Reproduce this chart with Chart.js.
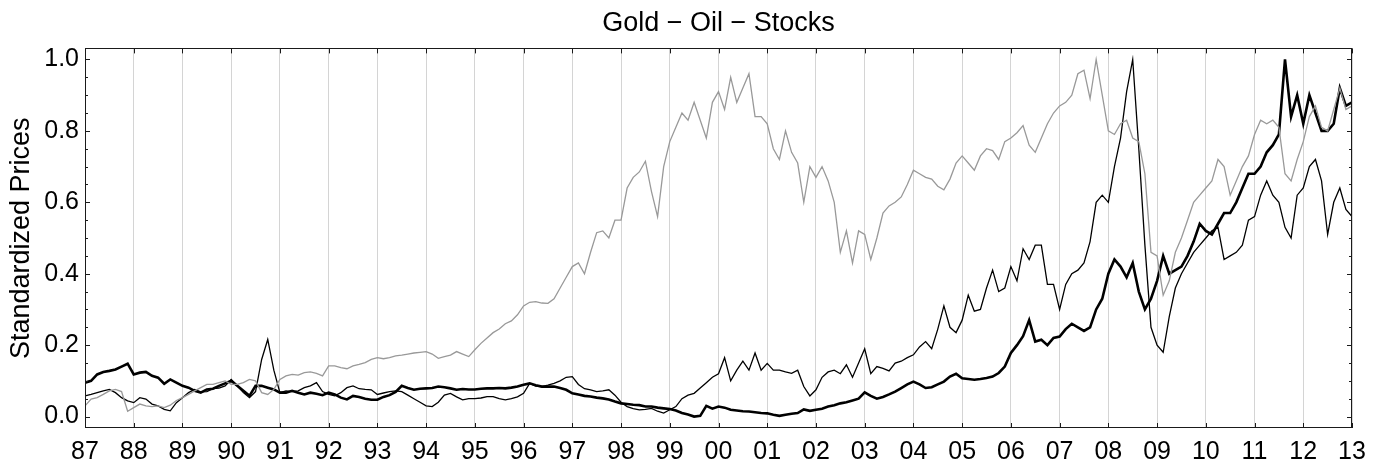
<!DOCTYPE html>
<html>
<head>
<meta charset="utf-8">
<title>Gold - Oil - Stocks</title>
<script src="https://cdn.jsdelivr.net/npm/chart.js@4.4.1/dist/chart.umd.min.js"></script>
<style>
   html, body { margin: 0; padding: 0; background: #fff; }
   canvas { display: block; }
</style>
</head>
<body>
<canvas id="chart" width="1386" height="465"></canvas>
<script>
const startYear = 1987;
const stepYears = 1 / 8;

const gold = [
   0.095, 0.10, 0.118, 0.125, 0.128, 0.132, 0.14, 0.148,
   0.118, 0.123, 0.125, 0.114, 0.109, 0.092, 0.104, 0.095,
   0.086, 0.081, 0.072, 0.067, 0.076, 0.078, 0.086, 0.093,
   0.10, 0.086, 0.072, 0.058, 0.086, 0.086, 0.081, 0.076,
   0.067, 0.067, 0.072, 0.067, 0.062, 0.067, 0.064, 0.06,
   0.067, 0.062, 0.053, 0.048, 0.058, 0.055, 0.05, 0.047,
   0.047, 0.055, 0.06, 0.069, 0.086, 0.08, 0.075, 0.078,
   0.079, 0.08, 0.084, 0.082, 0.079, 0.075, 0.077, 0.076,
   0.076, 0.078, 0.079, 0.079, 0.08, 0.079, 0.081, 0.084,
   0.089, 0.093, 0.088, 0.084, 0.084, 0.084, 0.08, 0.075,
   0.065, 0.062, 0.058, 0.056, 0.053, 0.051, 0.048, 0.042,
   0.037, 0.035, 0.033, 0.032, 0.028, 0.028, 0.025, 0.023,
   0.021, 0.017, 0.01, 0.006, 0.0, 0.002, 0.03, 0.022,
   0.028, 0.025, 0.019, 0.017, 0.015, 0.014, 0.012, 0.01,
   0.009, 0.005, 0.002, 0.005, 0.008, 0.01, 0.02, 0.016,
   0.019, 0.022, 0.028, 0.032, 0.037, 0.04, 0.045, 0.05,
   0.068, 0.058, 0.05, 0.055, 0.062, 0.07, 0.08, 0.09,
   0.098, 0.09, 0.08, 0.082, 0.09, 0.098, 0.112, 0.12,
   0.107, 0.105, 0.103, 0.105, 0.108, 0.112, 0.122, 0.14,
   0.178, 0.2, 0.225, 0.27, 0.21, 0.215, 0.2, 0.22,
   0.224, 0.245, 0.26, 0.25, 0.24, 0.25, 0.3, 0.33,
   0.40, 0.44, 0.42, 0.39, 0.43, 0.35, 0.3, 0.33,
   0.38, 0.45, 0.40, 0.41, 0.42, 0.45, 0.49, 0.54,
   0.52, 0.51, 0.54, 0.57, 0.57, 0.6, 0.64, 0.68,
   0.68, 0.7, 0.74, 0.76, 0.79, 1.0, 0.84, 0.9,
   0.82, 0.9, 0.85, 0.8, 0.8, 0.82, 0.92, 0.87,
   0.88
];

const oil = [
   0.058, 0.062, 0.067, 0.072, 0.076, 0.067, 0.053, 0.044,
   0.039, 0.053, 0.049, 0.035, 0.03, 0.02, 0.016, 0.039,
   0.053, 0.067, 0.076, 0.069, 0.07, 0.078, 0.08, 0.086,
   0.104, 0.086, 0.067, 0.053, 0.07, 0.16, 0.216, 0.13,
   0.067, 0.072, 0.07, 0.072, 0.081, 0.086, 0.095, 0.07,
   0.062, 0.058, 0.067, 0.081, 0.086, 0.078, 0.076, 0.075,
   0.062, 0.066, 0.07, 0.072, 0.07, 0.06, 0.05, 0.04,
   0.03, 0.028, 0.04, 0.06, 0.065, 0.055, 0.047, 0.05,
   0.05, 0.052, 0.056, 0.056, 0.05, 0.047, 0.05, 0.055,
   0.065, 0.093, 0.085, 0.084, 0.088, 0.093, 0.1, 0.11,
   0.112, 0.09, 0.078, 0.075, 0.07, 0.072, 0.075, 0.06,
   0.04, 0.028, 0.022, 0.019, 0.02, 0.023, 0.015, 0.01,
   0.019, 0.028, 0.05, 0.06, 0.065, 0.08, 0.095, 0.11,
   0.12, 0.165, 0.10, 0.13, 0.155, 0.13, 0.178, 0.13,
   0.149, 0.13, 0.13, 0.125, 0.121, 0.13, 0.084, 0.058,
   0.075, 0.11, 0.125, 0.13, 0.12, 0.145, 0.11, 0.15,
   0.19, 0.12, 0.14, 0.135, 0.128, 0.15, 0.155, 0.165,
   0.173, 0.195, 0.21, 0.19, 0.245, 0.31, 0.25, 0.235,
   0.27, 0.34, 0.295, 0.3, 0.36, 0.41, 0.35, 0.36,
   0.42, 0.38, 0.47, 0.44, 0.48, 0.48, 0.37, 0.37,
   0.3, 0.37, 0.4, 0.41, 0.43, 0.49, 0.6, 0.62,
   0.6, 0.7, 0.78, 0.91, 1.0, 0.75, 0.48, 0.25,
   0.2, 0.18, 0.28, 0.36, 0.4, 0.43, 0.46, 0.48,
   0.5, 0.52, 0.53, 0.44, 0.45, 0.46, 0.48, 0.55,
   0.56, 0.62, 0.66, 0.62, 0.6, 0.53, 0.5, 0.62,
   0.64, 0.7, 0.72, 0.66, 0.51, 0.6, 0.64, 0.58,
   0.56
];

const stocks = [
   0.03, 0.049, 0.053, 0.062, 0.072, 0.076, 0.07, 0.015,
   0.025, 0.035, 0.03, 0.028, 0.03, 0.025, 0.032, 0.045,
   0.053, 0.062, 0.072, 0.081, 0.09, 0.09, 0.095, 0.1,
   0.09, 0.09, 0.095, 0.104, 0.1, 0.067, 0.062, 0.076,
   0.104, 0.114, 0.118, 0.116, 0.123, 0.125, 0.121, 0.114,
   0.142, 0.142, 0.137, 0.134, 0.142, 0.146, 0.151, 0.16,
   0.165, 0.162, 0.165, 0.17, 0.172, 0.175, 0.178, 0.18,
   0.182, 0.175, 0.163, 0.168, 0.172, 0.182, 0.175, 0.168,
   0.187, 0.205, 0.22, 0.235, 0.245, 0.26, 0.268, 0.285,
   0.31, 0.32, 0.322, 0.318, 0.317, 0.33, 0.36, 0.39,
   0.42, 0.43, 0.4, 0.46, 0.515, 0.52, 0.5, 0.55,
   0.55, 0.64, 0.67, 0.685, 0.715, 0.63, 0.56, 0.7,
   0.77, 0.81, 0.85, 0.83, 0.88, 0.83, 0.78, 0.88,
   0.91, 0.86, 0.95, 0.88, 0.92, 0.96, 0.84, 0.84,
   0.82, 0.75, 0.72, 0.8, 0.74, 0.71, 0.6, 0.7,
   0.67, 0.7, 0.66, 0.6, 0.46, 0.52, 0.43, 0.52,
   0.51, 0.44, 0.5, 0.57, 0.59, 0.6, 0.615, 0.65,
   0.69, 0.68, 0.67, 0.665, 0.645, 0.635, 0.665, 0.71,
   0.73, 0.71, 0.69, 0.73, 0.75, 0.745, 0.72, 0.77,
   0.78, 0.795, 0.815, 0.76, 0.74, 0.78, 0.82, 0.85,
   0.87, 0.88, 0.9, 0.96, 0.97, 0.89, 1.0, 0.9,
   0.8, 0.79, 0.82, 0.83, 0.78, 0.77, 0.68, 0.46,
   0.45, 0.34, 0.38, 0.46, 0.5, 0.55, 0.6, 0.62,
   0.64, 0.66, 0.72, 0.7, 0.62, 0.66, 0.7, 0.73,
   0.79, 0.83, 0.82, 0.83, 0.81, 0.68, 0.66, 0.72,
   0.77, 0.84, 0.87, 0.81, 0.8, 0.86, 0.92, 0.86,
   0.87
];

const xTickYears = [
   1987, 1988, 1989, 1990, 1991, 1992, 1993, 1994, 1995, 1996, 1997, 1998, 1999,
   2000, 2001, 2002, 2003, 2004, 2005, 2006, 2007, 2008, 2009, 2010, 2011, 2012, 2013
];
const xTickLabels = [
   "87", "88", "89", "90", "91", "92", "93", "94", "95", "96", "97", "98", "99",
   "00", "01", "02", "03", "04", "05", "06", "07", "08", "09", "10", "11", "12", "13"
];
const yTicks = [0, 0.2, 0.4, 0.6, 0.8, 1.0];
const yMinorTicks = [
   0.05, 0.1, 0.15, 0.25, 0.3, 0.35, 0.45, 0.5, 0.55, 0.65, 0.7, 0.75, 0.85, 0.9, 0.95
];

const FONT = "'Liberation Sans', Arial, Helvetica, sans-serif";

// Turn a series into {x, y} points on the 1/8 year grid
function toPoints(values) {
   return values.map((v, i) => ({ x: startYear + i * stepYears, y: v }));
}

// Frame with inward tick marks, like the original plot
const frameTicks = {
   id: "frameTicks",
   afterDraw(chart) {
      const ctx = chart.ctx;
      const area = chart.chartArea;
      const xs = chart.scales.x;
      const ys = chart.scales.y;
      ctx.save();
      ctx.strokeStyle = "#1a1a1a";
      ctx.lineWidth = 1;
      ctx.beginPath();
      xTickYears.forEach((yr) => {
         const px = Math.round(xs.getPixelForValue(yr)) + 0.5;
         ctx.moveTo(px, area.bottom);
         ctx.lineTo(px, area.bottom - 5);
         ctx.moveTo(px, area.top);
         ctx.lineTo(px, area.top + 5);
      });
      yTicks.forEach((v) => {
         const py = Math.round(ys.getPixelForValue(v)) + 0.5;
         ctx.moveTo(area.left, py);
         ctx.lineTo(area.left + 5, py);
         ctx.moveTo(area.right, py);
         ctx.lineTo(area.right - 5, py);
      });
      yMinorTicks.forEach((v) => {
         const py = Math.round(ys.getPixelForValue(v)) + 0.5;
         ctx.moveTo(area.left, py);
         ctx.lineTo(area.left + 3, py);
         ctx.moveTo(area.right, py);
         ctx.lineTo(area.right - 3, py);
      });
      ctx.stroke();
      ctx.strokeRect(
         Math.round(area.left) + 0.5,
         Math.round(area.top) + 0.5,
         Math.round(area.width) - 1,
         Math.round(area.height) - 1
      );
      ctx.restore();
   },
};

const ctx = document.getElementById("chart").getContext("2d");
new Chart(ctx, {
   type: "line",
   data: {
      datasets: [
         {
            label: "Gold",
            data: toPoints(gold),
            borderColor: "#000000",
            borderWidth: 2.6,
            order: 3,
         },
         {
            label: "Oil",
            data: toPoints(oil),
            borderColor: "#000000",
            borderWidth: 1.3,
            order: 2,
         },
         {
            label: "Stocks",
            data: toPoints(stocks),
            borderColor: "#999999",
            borderWidth: 1.3,
            order: 1,
         },
      ],
   },
   options: {
      responsive: false,
      animation: false,
      devicePixelRatio: 1,
      layout: {
         padding: { left: 0, right: 34, top: 0, bottom: 0 },
      },
      elements: {
         point: { radius: 0 },
         line: { tension: 0, fill: false },
      },
      plugins: {
         legend: { display: false },
         tooltip: { enabled: false },
         title: {
            display: true,
            fullSize: false,
            text: "Gold \u2212 Oil \u2212 Stocks",
            color: "#000000",
            font: { family: FONT, size: 27, weight: "normal" },
            padding: { top: 7, bottom: 9 },
         },
      },
      scales: {
         x: {
            type: "linear",
            min: 1987,
            max: 2013,
            afterBuildTicks: (scale) => {
               scale.ticks = xTickYears.map((v) => ({ value: v }));
            },
            afterFit: (scale) => {
               scale.height = 37;
            },
            ticks: {
               color: "#000000",
               font: { family: FONT, size: 25 },
               padding: 9,
               maxRotation: 0,
               autoSkip: false,
               callback: (value, index) => xTickLabels[index],
            },
            grid: {
               color: "#d4d4d4",
               lineWidth: 1,
               drawTicks: false,
            },
            border: { display: false },
         },
         y: {
            type: "linear",
            min: -0.032,
            max: 1.031,
            afterBuildTicks: (scale) => {
               scale.ticks = yTicks.map((v) => ({ value: v }));
            },
            afterFit: (scale) => {
               scale.width = 85;
            },
            ticks: {
               color: "#000000",
               font: { family: FONT, size: 25 },
               padding: 6,
               callback: (value) => value.toFixed(1),
            },
            grid: { display: false, drawTicks: false },
            border: { display: false },
            title: {
               display: true,
               text: "Standardized Prices",
               color: "#000000",
               font: { family: FONT, size: 27, weight: "normal" },
               padding: { top: 5, bottom: 0 },
            },
         },
      },
   },
   plugins: [frameTicks],
});
</script>
</body>
</html>
